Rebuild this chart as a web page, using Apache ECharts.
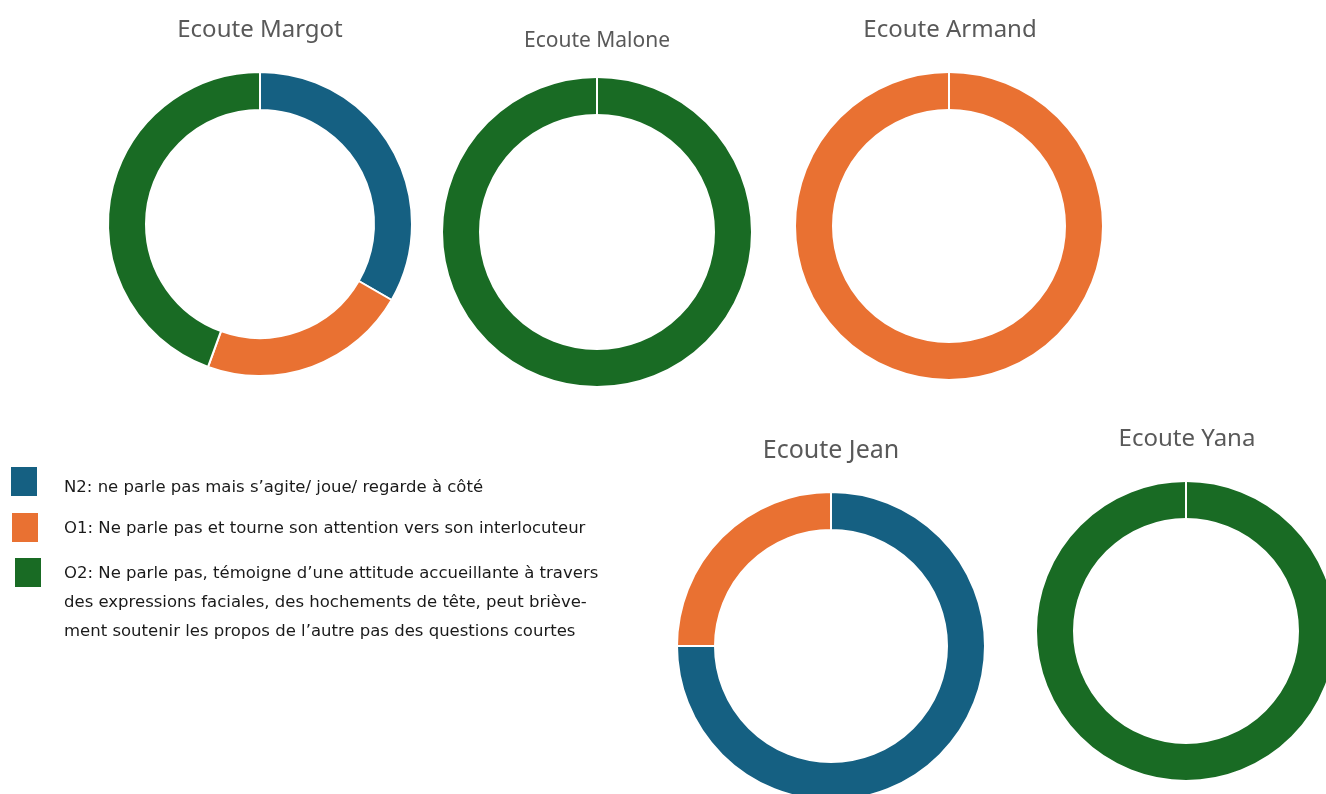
<!DOCTYPE html>
<html>
<head>
<meta charset="utf-8">
<script src="https://cdn.jsdelivr.net/npm/echarts@6/dist/echarts.min.js"></script>
<style>
  html, body { margin: 0; padding: 0; background: #ffffff; }
  #chart { width: 1326px; height: 794px; }
</style>
</head>
<body>
<div id="chart"></div>
<script>
// Observation categories (legend order = slice order)
const categories = ['N2', 'O1', 'O2'];
const categoryLabels = [
  ['N2: ne parle pas mais s\u2019agite/ joue/ regarde à côté'],
  ['O1: Ne parle pas et tourne son attention vers son interlocuteur'],
  ['O2: Ne parle pas, témoigne d\u2019une attitude accueillante à travers',
   'des expressions faciales, des hochements de tête, peut briève-',
   'ment soutenir les propos de l\u2019autre pas des questions courtes']
];
const colors = ['#156082', '#E97132', '#196B24'];

// Counts per child: [N2, O1, O2]
const children = ['Margot', 'Malone', 'Armand', 'Jean', 'Yana'];
const margot = [3, 2, 4];
const malone = [0, 0, 5];
const armand = [0, 4, 0];
const jean = [3, 1, 0];
const yana = [0, 0, 4];
const values = [margot, malone, armand, jean, yana];

// Layout of each donut: center, outer radius, title position and size
const layout = [
  { cx: 260, cy: 224, r: 151, tx: 260, ty: 18, fs: 24 },
  { cx: 597, cy: 232, r: 154, tx: 597, ty: 31, fs: 21 },
  { cx: 949, cy: 226, r: 153, tx: 950, ty: 18, fs: 24 },
  { cx: 831, cy: 646, r: 153, tx: 831, ty: 438, fs: 25 },
  { cx: 1186, cy: 631, r: 149, tx: 1187, ty: 427, fs: 24 }
];

const titleFont = '"Noto Sans", "Open Sans", sans-serif';

const titles = children.map((name, i) => ({
  text: 'Ecoute ' + name,
  left: layout[i].tx,
  top: layout[i].ty,
  padding: 0,
  textAlign: 'center',
  textStyle: {
    fontFamily: titleFont,
    fontSize: layout[i].fs,
    fontWeight: 'normal',
    color: '#595959'
  }
}));

// Slices keep category order; empty categories go last so their
// white separator is painted on top of a full ring.
function sliceData(vals) {
  const items = categories.map((c, k) => ({
    name: c,
    value: vals[k],
    itemStyle: { color: colors[k] }
  }));
  return items.filter(d => d.value > 0).concat(items.filter(d => d.value === 0));
}

const series = children.map((name, i) => ({
  name: 'Ecoute ' + name,
  type: 'pie',
  center: [layout[i].cx, layout[i].cy],
  radius: [layout[i].r - 37, layout[i].r + 1],
  startAngle: 90,
  clockwise: true,
  avoidLabelOverlap: false,
  label: { show: false },
  labelLine: { show: false },
  emphasis: { disabled: true },
  itemStyle: { borderColor: '#ffffff', borderWidth: 2 },
  data: sliceData(values[i])
}));

// Legend: colour squares with wrapped descriptions
const legendGraphics = [];
const squareTops = [467, 513, 558];
const squareLefts = [11, 12, 15];
const lineStarts = [488, 529, 574];
const lineGap = 29;
categories.forEach((c, k) => {
  legendGraphics.push({
    type: 'rect',
    left: squareLefts[k],
    top: squareTops[k],
    shape: { width: 26, height: 29 },
    style: { fill: colors[k] }
  });
  categoryLabels[k].forEach((line, j) => {
    legendGraphics.push({
      type: 'text',
      x: 64,
      y: lineStarts[k] + j * lineGap,
      style: {
        text: line,
        fill: '#1a1a1a',
        font: '16.5px "DejaVu Sans", sans-serif',
        textVerticalAlign: 'middle',
        textAlign: 'left'
      }
    });
  });
});

const chart = echarts.init(document.getElementById('chart'), null, { renderer: 'canvas' });
chart.setOption({
  animation: false,
  backgroundColor: '#ffffff',
  title: titles,
  tooltip: { show: false },
  series: series,
  graphic: legendGraphics
});
</script>
</body>
</html>
